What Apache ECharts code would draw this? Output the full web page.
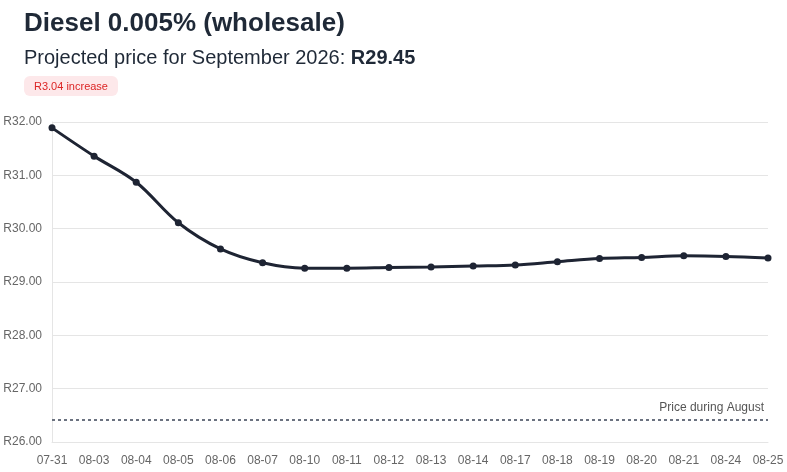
<!DOCTYPE html>
<html>
<head>
<meta charset="utf-8">
<script src="https://cdn.jsdelivr.net/npm/echarts@6/dist/echarts.min.js"></script>
<style>html,body{margin:0;padding:0;background:#fff;}#c{width:787px;height:472px;}</style>
</head>
<body>
<div id="c"></div>
<script>
var categories = ['07-31','08-03','08-04','08-05','08-06','08-07','08-10','08-11','08-12','08-13','08-14','08-17','08-18','08-19','08-20','08-21','08-24','08-25'];
var prices = [31.89,31.36,30.87,30.11,29.62,29.36,29.26,29.26,29.27,29.28,29.30,29.32,29.38,29.44,29.46,29.49,29.48,29.45];
var augustPrice = 26.41;
var yTicks = {min: 26, max: 32, interval: 1};
var titleText = 'Diesel 0.005% (wholesale)';
var subtitlePrefix = 'Projected price for September 2026: ';
var subtitleValue = 'R29.45';
var badgeText = 'R3.04 increase';
var markLabel = 'Price during August';

var font = 'Arial, "Liberation Sans", Helvetica, sans-serif';
var chart = echarts.init(document.getElementById('c'), null, {renderer: 'canvas'});
chart.setOption({
  animation: false,
  textStyle: {fontFamily: font},
  title: [
    {text: '{t|' + titleText + '}', left: 19, top: 6,
     textStyle: {rich: {t: {fontSize: 26, fontWeight: 'bold', color: '#1f2937', fontFamily: font}}}},
    {text: '{a|' + subtitlePrefix + '}{b|' + subtitleValue + '}', left: 19, top: 43,
     textStyle: {fontWeight: 'normal', rich: {a: {fontSize: 20, fontWeight: 'normal', color: '#1f2937', fontFamily: font}, b: {fontSize: 20, fontWeight: 'bold', color: '#1f2937', fontFamily: font}}}},
    {text: '{r|' + badgeText + '}', left: 24, top: 76, padding: [5, 10, 4, 10], backgroundColor: '#fde8ea', borderRadius: 6,
     textStyle: {fontWeight: 'normal', rich: {r: {fontSize: 11, fontWeight: 'normal', color: '#dc2626', fontFamily: font}}}}
  ],
  grid: {left: 52, right: 19, top: 122, bottom: 30, containLabel: false},
  xAxis: {
    type: 'category', data: categories, boundaryGap: false,
    axisLine: {show: true, lineStyle: {color: '#e5e5e5'}},
    axisTick: {show: false},
    axisLabel: {color: '#666', fontSize: 12, margin: 13, interval: 0, fontFamily: font},
    splitLine: {show: false}
  },
  yAxis: {
    type: 'value', min: yTicks.min, max: yTicks.max, interval: yTicks.interval,
    axisLine: {show: true, lineStyle: {color: '#e5e5e5'}},
    axisTick: {show: false},
    axisLabel: {color: '#666', fontSize: 12, margin: 10, fontFamily: font, formatter: function (v) { return 'R' + v.toFixed(2); }},
    splitLine: {show: true, lineStyle: {color: '#e5e5e5'}}
  },
  series: [{
    type: 'line', data: prices, smooth: 0.35,
    symbol: 'circle', symbolSize: 7,
    lineStyle: {color: '#1e2433', width: 3},
    itemStyle: {color: '#1e2433'},
    markLine: {
      silent: true, symbol: 'none',
      lineStyle: {color: '#6b7280', type: [3, 3], width: 2},
      label: {show: true, position: 'insideEndTop', formatter: markLabel, color: '#555', fontSize: 12, fontFamily: font, distance: [4, 6]},
      data: [{yAxis: augustPrice}]
    }
  }]
});
</script>
</body>
</html>
